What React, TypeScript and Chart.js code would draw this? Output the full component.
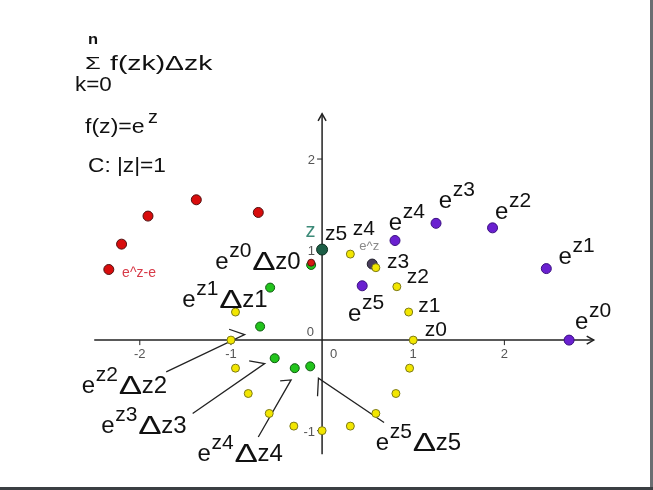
import React, { useEffect, useRef } from "react";
import { Chart, registerables } from "chart.js";
Chart.register(...registerables);

const W = 653;
const H = 490;

// z_k on the unit circle (visible ones)
const circleX = [1, 0.95, 0.82, 0.59, 0.31, -0.95, -1, -0.95, -0.81, -0.58, -0.31, 0, 0.31, 0.59, 0.81, 0.96];
const circleY = [0, 0.31, 0.59, 0.8, 0.95, 0.31, 0, -0.31, -0.59, -0.81, -0.95, -1, -0.95, -0.81, -0.59, -0.31];
// z point
const zX = [0];
const zY = [1];
// e^{z_k}
const expX = [2.71, 2.46, 1.87, 1.25, 0.8, 0.44];
const expY = [0, 0.79, 1.24, 1.29, 1.1, 0.6];
// e^z (current point)
const expCurX = [0.55];
const expCurY = [0.84];
// e^z - e
const shiftX = [-2.34, -2.2, -1.91, -1.38, -0.7];
const shiftY = [0.78, 1.06, 1.37, 1.55, 1.41];
// e^{z_k} Δz_k
const termX = [-0.12, -0.57, -0.68, -0.52, -0.3, -0.13];
const termY = [0.83, 0.58, 0.15, -0.2, -0.31, -0.29];
// overlapping red mark on the first term
const overX = [-0.12];
const overY = [0.855];

// axis and ticks
const xAxisRange = [-2.5, 2.98];
const yAxisRange = [-1.26, 2.5];
const xTicks = [-2, -1, 1, 2];
const yTicks = [2, 1, -1];

// labels: e^{sup} Δ tail, anchored at left/baseline of "e" (data units)
const expLabels = [
  { x: -1.172, y: 0.782, sup: "z0", tail: "z0" },
  { x: -1.534, y: 0.37, sup: "z1", tail: "z1" },
  { x: -2.638, y: -0.581, sup: "z2", tail: "z2" },
  { x: -2.423, y: -1.028, sup: "z3", tail: "z3" },
  { x: -1.366, y: -1.333, sup: "z4", tail: "z4" },
  { x: 0.588, y: -1.218, sup: "z5", tail: "z5" },
  { x: 2.774, y: 0.126, sup: "z0", tail: "" },
  { x: 2.595, y: 0.843, sup: "z1", tail: "" },
  { x: 1.896, y: 1.338, sup: "z2", tail: "" },
  { x: 1.28, y: 1.462, sup: "z3", tail: "" },
  { x: 0.731, y: 1.212, sup: "z4", tail: "" },
  { x: 0.283, y: 0.209, sup: "z5", tail: "" },
];
const zLabels = [
  { x: 1.126, y: 0.047, t: "z0" },
  { x: 1.054, y: 0.309, t: "z1" },
  { x: 0.928, y: 0.631, t: "z2" },
  { x: 0.713, y: 0.792, t: "z3" },
  { x: 0.337, y: 1.158, t: "z4" },
  { x: 0.032, y: 1.104, t: "z5" },
];
// pointer lines [x1,y1,x2,y2, barbX, barbY]
const pointers = [
  [-1.71, -0.35, -0.85, 0.06, -1.02, 0.12],
  [-1.42, -0.81, -0.63, -0.26, -0.8, -0.23],
  [-0.7, -1.07, -0.34, -0.44, -0.46, -0.45],
  [0.68, -0.91, -0.04, -0.42, -0.05, -0.62],
];

const FONT = '"Liberation Sans", Arial, sans-serif';

function txt(ctx: CanvasRenderingContext2D, s: string, x: number, y: number, size: number, color = "#111", sx = 1, align: CanvasTextAlign = "left", weight = "normal") {
  ctx.save();
  ctx.font = `${weight} ${size}px ${FONT}`;
  ctx.fillStyle = color;
  ctx.textAlign = align;
  ctx.textBaseline = "alphabetic";
  ctx.translate(x, y);
  ctx.scale(sx, 1);
  ctx.fillText(s, 0, 0);
  ctx.restore();
}

const drawPlugin = {
  id: "diagram",
  beforeDatasetsDraw(chart: any) {
    const ctx: CanvasRenderingContext2D = chart.ctx;
    const xs = chart.scales.x;
    const ys = chart.scales.y;
    const X = (v: number) => xs.getPixelForValue(v);
    const Y = (v: number) => ys.getPixelForValue(v);
    const ox = X(0);
    const oy = Y(0);
    ctx.save();
    ctx.strokeStyle = "#222";
    ctx.lineWidth = 1.5;
    // x axis
    ctx.beginPath();
    ctx.moveTo(X(xAxisRange[0]), oy);
    ctx.lineTo(X(xAxisRange[1]), oy);
    ctx.stroke();
    const ax = X(xAxisRange[1]);
    ctx.beginPath();
    ctx.moveTo(ax - 7, oy - 4);
    ctx.lineTo(ax, oy);
    ctx.lineTo(ax - 7, oy + 4);
    ctx.stroke();
    // y axis
    ctx.beginPath();
    ctx.moveTo(ox, Y(yAxisRange[0]));
    ctx.lineTo(ox, Y(yAxisRange[1]));
    ctx.stroke();
    const ay = Y(yAxisRange[1]);
    ctx.beginPath();
    ctx.moveTo(ox - 4, ay + 7);
    ctx.lineTo(ox, ay);
    ctx.lineTo(ox + 4, ay + 7);
    ctx.stroke();
    // ticks
    ctx.lineWidth = 1;
    xTicks.forEach((t) => {
      ctx.beginPath();
      ctx.moveTo(X(t), oy);
      ctx.lineTo(X(t), oy + 5);
      ctx.stroke();
      txt(ctx, String(t), X(t), oy + 18, 13, "#555", 1, "center");
    });
    yTicks.forEach((t) => {
      ctx.beginPath();
      ctx.moveTo(ox - 5, Y(t));
      ctx.lineTo(ox, Y(t));
      ctx.stroke();
      txt(ctx, String(t), ox - 7, Y(t) + 5, 13, "#555", 1, "right");
    });
    txt(ctx, "0", ox - 8, oy - 4, 13, "#555", 1, "right");
    txt(ctx, "0", ox + 8, oy + 18, 13, "#555", 1, "left");
    // pointer lines
    ctx.strokeStyle = "#222";
    ctx.lineWidth = 1.3;
    pointers.forEach((p) => {
      ctx.beginPath();
      ctx.moveTo(X(p[0]), Y(p[1]));
      ctx.lineTo(X(p[2]), Y(p[3]));
      ctx.lineTo(X(p[4]), Y(p[5]));
      ctx.stroke();
    });
    ctx.restore();
  },
  afterDatasetsDraw(chart: any) {
    const ctx: CanvasRenderingContext2D = chart.ctx;
    const xs = chart.scales.x;
    const ys = chart.scales.y;
    const X = (v: number) => xs.getPixelForValue(v);
    const Y = (v: number) => ys.getPixelForValue(v);
    // header formulas
    txt(ctx, "n", 88, 44, 15, "#111", 1.1, "left", "bold");
    txt(ctx, "Σ", 85, 69, 17, "#111", 1.5);
    txt(ctx, "f(zk)Δzk", 110, 70, 21, "#111", 1.35);
    txt(ctx, "k=0", 75, 91, 20, "#111", 1.12);
    txt(ctx, "f(z)=e", 85, 133, 21, "#111", 1.1);
    txt(ctx, "z", 148, 123, 18, "#111", 1.1);
    txt(ctx, "C: |z|=1", 88, 172, 21, "#111", 1.08);

    expLabels.forEach((l) => {
      const px = X(l.x);
      const py = Y(l.y);
      txt(ctx, "e", px, py, 24);
      txt(ctx, l.sup, px + 14, py - 12, 21);
      if (l.tail) {
        txt(ctx, "Δ", px + 37, py + 1, 25, "#111", 1.4);
        txt(ctx, l.tail, px + 60, py, 24);
      }
    });
    zLabels.forEach((l) => txt(ctx, l.t, X(l.x), Y(l.y), 21));
    txt(ctx, "z", X(-0.183), Y(1.14), 20, "#3c8a78");
    txt(ctx, "e^z", X(0.409), Y(0.997), 13, "#8a8a8a");
    txt(ctx, "e^z-e", X(-2.194), Y(0.696), 14, "#d83a48");
  },
  afterDraw(chart: any) {
    const ctx: CanvasRenderingContext2D = chart.ctx;
    ctx.save();
    ctx.fillStyle = "#6b6e72";
    ctx.fillRect(W - 3, 0, 3, H);
    ctx.fillStyle = "#3b3f43";
    ctx.fillRect(0, H - 3, W, 3);
    ctx.restore();
  },
};

export default function App() {
  const ref = useRef<HTMLCanvasElement>(null);
  useEffect(() => {
    const mk = (xsArr: number[], ysArr: number[]) => xsArr.map((x, i) => ({ x, y: ysArr[i] }));
    const chart = new Chart(ref.current as HTMLCanvasElement, {
      type: "scatter",
      data: {
        datasets: [
          { label: "z_k", data: mk(circleX, circleY), backgroundColor: "#f2e600", borderColor: "#7d7a18", borderWidth: 1, pointRadius: 4, order: 1 },
          { label: "z", data: mk(zX, zY), backgroundColor: "#1c5e46", borderColor: "#0c3020", borderWidth: 1, pointRadius: 5.5, order: 2 },
          { label: "e^z", data: mk(expCurX, expCurY), backgroundColor: "#4a3d5c", borderColor: "#1e1e2a", borderWidth: 1, pointRadius: 5, order: 3 },
          { label: "overlap", data: mk(overX, overY), backgroundColor: "#d81a10", borderColor: "#601010", borderWidth: 1, pointRadius: 3.5, order: 1 },
          { label: "e^zk Δzk", data: mk(termX, termY), backgroundColor: "#22c41c", borderColor: "#0e5a10", borderWidth: 1, pointRadius: 4.5, order: 4 },
          { label: "e^zk", data: mk(expX, expY), backgroundColor: "#6a20d0", borderColor: "#3a1080", borderWidth: 1, pointRadius: 5, order: 4 },
          { label: "e^z-e", data: mk(shiftX, shiftY), backgroundColor: "#d80c0c", borderColor: "#501010", borderWidth: 1, pointRadius: 5, order: 4 },
        ],
      },
      options: {
        responsive: false,
        maintainAspectRatio: false,
        animation: false,
        layout: { padding: 0 },
        plugins: { legend: { display: false }, tooltip: { enabled: false } },
        scales: {
          x: { type: "linear", display: false, min: -322 / 93, max: (W - 322) / 93 },
          y: { type: "linear", display: false, min: -(H - 342.7) / 93, max: 342.7 / 93 },
        },
      },
      plugins: [drawPlugin],
    });
    return () => chart.destroy();
  }, []);
  return (
    <div style={{ position: "absolute", left: 0, top: 0, width: W, height: H, background: "#fff" }}>
      <canvas ref={ref} width={W} height={H} style={{ display: "block", width: W, height: H }} />
    </div>
  );
}
